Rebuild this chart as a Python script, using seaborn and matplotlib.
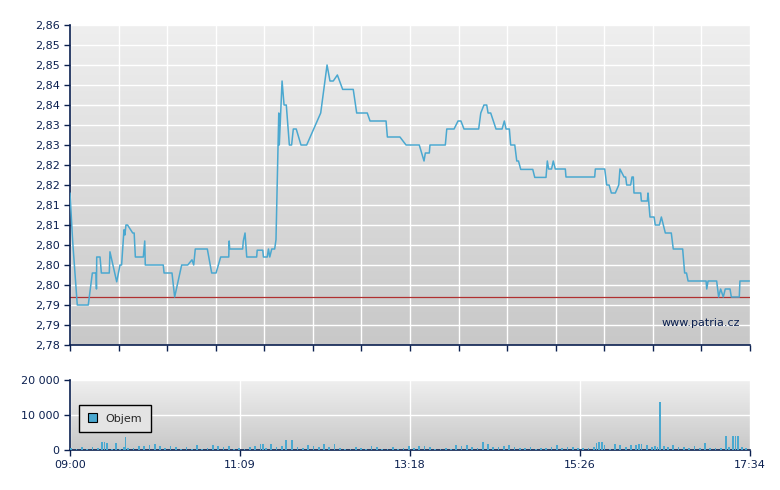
import numpy as np
import matplotlib
matplotlib.use("Agg")
import matplotlib.pyplot as plt
import seaborn as sns
import pandas as pd

# price series: (minutes after 09:00, price)
price_points = [
    (0, 2.818), (2, 2.806), (5.5, 2.790), (13.8, 2.790), (16.9, 2.798), (19.7, 2.798), (20.0, 2.794),
    (20.2, 2.802), (22.7, 2.802), (23.7, 2.798), (29.7, 2.798), (30.2, 2.8033), (35.3, 2.7958),
    (37.8, 2.800), (39.0, 2.800), (40.8, 2.8088), (41.5, 2.8075), (42.3, 2.810), (43.5, 2.810),
    (47.4, 2.808), (48.5, 2.808), (49.4, 2.802), (55.4, 2.802), (56.5, 2.806), (56.9, 2.800),
    (70.5, 2.800), (71.1, 2.798), (77.1, 2.798), (79.1, 2.792), (84.4, 2.800), (89.0, 2.800),
    (92.2, 2.8013), (93.5, 2.800), (94.7, 2.804), (103.8, 2.804), (107.1, 2.798), (110.4, 2.798),
    (113.9, 2.802), (120, 2.802), (120.3, 2.806), (120.7, 2.804), (130.5, 2.804), (131.0, 2.806),
    (132.3, 2.808), (133.6, 2.802), (141.1, 2.802), (141.5, 2.8037), (145.7, 2.8037), (146.2, 2.802),
    (149.1, 2.802), (150.0, 2.804), (151.0, 2.802), (152.5, 2.804), (154.7, 2.804), (155.7, 2.8063),
    (157.8, 2.838), (158.2, 2.830), (160.3, 2.846), (161.8, 2.840), (163.5, 2.840), (165.8, 2.830),
    (167.5, 2.830), (168.8, 2.834), (171.0, 2.834), (174.6, 2.830), (178.9, 2.830), (189.5, 2.838),
    (194.3, 2.850), (196.5, 2.846), (199.0, 2.846), (202.1, 2.8475), (206.1, 2.8439), (214.1, 2.8439),
    (216.7, 2.838), (224.7, 2.838), (226.8, 2.836), (238.9, 2.836), (239.9, 2.832), (249.4, 2.832),
    (254, 2.830), (264, 2.830), (267.6, 2.826), (268.6, 2.828), (271.6, 2.828), (272.1, 2.830),
    (283.7, 2.830), (284.8, 2.834), (290.3, 2.834), (293.3, 2.836), (295.5, 2.836), (297.8, 2.834),
    (308.9, 2.834), (310.5, 2.838), (312.9, 2.840), (315, 2.840), (316, 2.838), (318.0, 2.838),
    (322, 2.834), (326.6, 2.834), (328.3, 2.836), (329.6, 2.834), (332.1, 2.834), (333.1, 2.830),
    (336.2, 2.830), (337.7, 2.826), (339.0, 2.826), (340.7, 2.8239), (349.8, 2.8239), (351.3, 2.8219),
    (359.8, 2.8219), (360.8, 2.826), (361.8, 2.824), (364.0, 2.824), (365.3, 2.826), (366.8, 2.824),
    (374.4, 2.824), (374.9, 2.822), (396.6, 2.822), (397.1, 2.824), (404.2, 2.824), (405.7, 2.820),
    (407.5, 2.820), (409.2, 2.818), (412.2, 2.818), (414.8, 2.820), (415.7, 2.824), (418.8, 2.822),
    (420.0, 2.822), (420.8, 2.820), (423.8, 2.820), (424.8, 2.822), (425.8, 2.822), (426.3, 2.818),
    (431.4, 2.818), (431.9, 2.816), (436.4, 2.816), (436.9, 2.818), (438.4, 2.812), (441.5, 2.812),
    (442.4, 2.810), (445.5, 2.810), (447, 2.812), (450, 2.808), (454.5, 2.808), (456, 2.804),
    (463.1, 2.804), (464.6, 2.798), (466.0, 2.798), (467.2, 2.796), (480.8, 2.796), (481.3, 2.794),
    (482.3, 2.796), (488.8, 2.796), (490.3, 2.792), (491.8, 2.794), (493.8, 2.792), (495.3, 2.794),
    (498.9, 2.794), (499.9, 2.792), (505.9, 2.792), (506.4, 2.796), (513.5, 2.796),
]
ref_price = 2.792

# volume: (minutes after 09:00, shares)
volume_points = [
    (1, 600), (5, 300), (9, 800), (13, 200), (17, 900), (21, 700), (24, 2300), (26, 2200), (28, 1900),
    (32, 400), (35, 2000), (38, 300), (41, 800), (44, 500), (42, 3800), (48, 700), (52, 1100),
    (56, 1200), (60, 1300), (64, 1800), (68, 1200), (72, 600), (76, 1100), (80, 1000), (84, 300),
    (88, 900), (92, 200), (96, 1500), (100, 300), (104, 700), (108, 1500), (112, 1100), (116, 900),
    (120, 1200), (124, 300), (128, 600), (132, 400), (136, 900), (140, 1200), (144, 1800), (146, 1800),
    (148, 600), (152, 1700), (156, 900), (160, 1100), (163, 2900), (168, 2900), (172, 900), (176, 700),
    (180, 1400), (184, 1200), (188, 800), (192, 1700), (196, 1000), (200, 1600), (204, 600), (208, 400),
    (212, 300), (216, 900), (220, 500), (224, 300), (228, 1200), (232, 800), (236, 400), (240, 300),
    (244, 900), (248, 200), (252, 500), (256, 1100), (260, 600), (264, 1100), (268, 1200), (272, 1000),
    (276, 400), (280, 300), (284, 500), (288, 300), (292, 1400), (296, 1100), (300, 1300), (304, 1000),
    (308, 700), (312, 2400), (316, 1700), (320, 800), (324, 900), (328, 1100), (332, 1300), (336, 800),
    (340, 600), (344, 700), (348, 900), (352, 300), (356, 600), (360, 500), (364, 800), (368, 1300),
    (372, 700), (376, 900), (380, 1000), (384, 600), (388, 500), (392, 700), (396, 1000), (398, 2100),
    (400, 2300), (402, 2300), (404, 1500), (408, 400), (412, 1600), (416, 1300), (420, 900), (424, 1500),
    (428, 1500), (430, 1600), (432, 1600), (436, 1400), (440, 900), (442, 1200), (444, 800),
    (446, 13800), (449, 1200), (452, 1000), (456, 1300), (460, 800), (464, 900), (468, 600), (472, 1200),
    (476, 700), (480, 1900), (484, 600), (488, 700), (492, 600), (496, 4000), (498, 800), (501, 4000),
    (503, 4000), (505, 4000), (508, 1000), (511, 600),
]

ytick_vals = [2.78 + 0.005 * i for i in range(17)]
ytick_labels = ["2,78", "2,79", "2,79", "2,80", "2,80", "2,80", "2,81", "2,81", "2,82", "2,82",
                "2,83", "2,83", "2,84", "2,84", "2,85", "2,85", "2,86"]
xtick_labels = ["09:00", "11:09", "13:18", "15:26", "17:34"]

navy = "#0b2050"
blue = "#4aa8d0"
sns.set_style("white")
plt.rcParams['font.family'] = ['DejaVu Sans']

fig = plt.figure(figsize=(7.8, 4.9), dpi=100)
ax = fig.add_axes([70/780, 1-345/490, 680/780, 320/490])
ax2 = fig.add_axes([70/780, 1-450/490, 680/780, 70/490])

grad = np.linspace(0, 1, 256).reshape(-1, 1)
cmap = matplotlib.colors.LinearSegmentedColormap.from_list("g", ["#efefef", "#c8c8c8"])
ax.imshow(grad, aspect="auto", cmap=cmap, extent=[0, 514, 2.78, 2.86], zorder=0, origin="upper")
ax2.imshow(grad, aspect="auto", cmap=cmap, extent=[0, 514, 0, 20000], zorder=0, origin="upper")

df = pd.DataFrame(price_points, columns=["m", "p"])
sns.lineplot(data=df, x="m", y="p", ax=ax, color=blue, linewidth=1.1, zorder=3, sort=False)
ax.axhline(ref_price, color="#b03030", linewidth=0.9, zorder=2)
ax.set_xlim(0, 514)
ax.set_ylim(2.78, 2.86)
ax.set_yticks(ytick_vals)
ax.set_yticklabels(ytick_labels)
ax.set_xticks(np.linspace(0, 514, 15))
ax.set_xticklabels([])
ax.grid(True, color="white", linewidth=1, zorder=1)
ax.set_xlabel("")
ax.set_ylabel("")
ax.text(0.985, 0.07, "www.patria.cz", transform=ax.transAxes, ha="right", va="center", color=navy, fontsize=8)

vm = [v[0] for v in volume_points]
vv = [v[1] for v in volume_points]
ax2.bar(vm, vv, width=1.3, color=blue, linewidth=0, zorder=3, label="Objem")
ax2.set_xlim(0, 514)
ax2.set_ylim(0, 20000)
ax2.set_yticks([0, 10000, 20000])
ax2.set_yticklabels(["0", "10 000", "20 000"])
ax2.set_xticks(np.linspace(0, 514, 5))
ax2.set_xticklabels(xtick_labels)
ax2.grid(True, color="white", linewidth=1, zorder=1)
leg = ax2.legend(loc="center left", bbox_to_anchor=(0.005, 0.45), fontsize=8, frameon=True,
                 fancybox=False, handlelength=0.8, handleheight=0.8, borderpad=0.8)
leg.get_frame().set_edgecolor("black")
leg.get_frame().set_facecolor("#e4e4e4")
leg.get_frame().set_alpha(1)
for h in leg.legend_handles:
    h.set_edgecolor("black")
    h.set_linewidth(0.8)

for a in (ax, ax2):
    for s in ("top", "right"):
        a.spines[s].set_visible(False)
    for s in ("left", "bottom"):
        a.spines[s].set_color(navy)
        a.spines[s].set_linewidth(1.2)
    a.tick_params(axis="both", colors=navy, labelsize=8, length=4, width=1, direction="out",
                  left=True, bottom=True, labelcolor=navy)

fig.savefig("out.png", dpi=100)
